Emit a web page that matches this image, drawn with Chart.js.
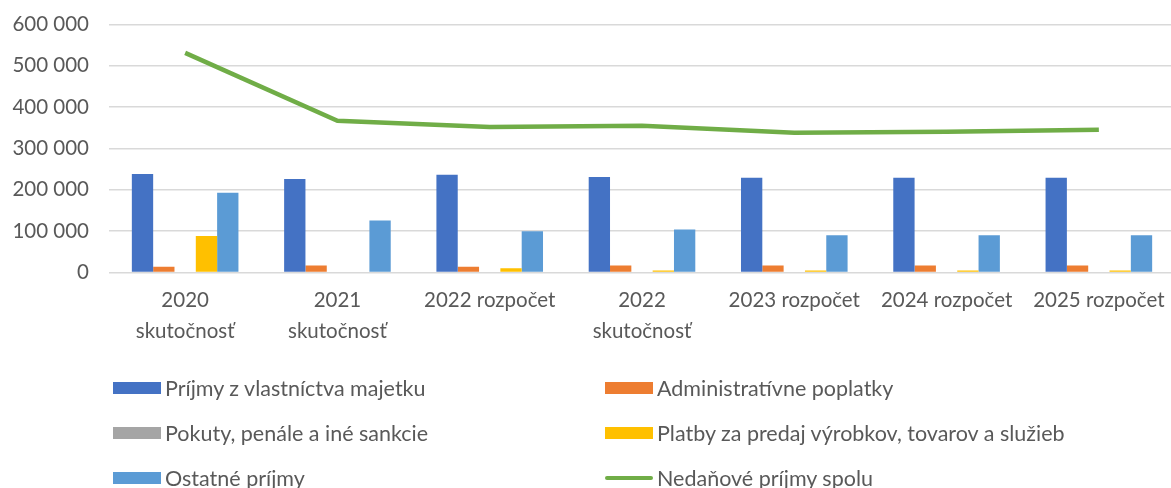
<!DOCTYPE html>
<html>
<head>
<meta charset="utf-8">
<script src="https://cdn.jsdelivr.net/npm/chart.js@4.4.1/dist/chart.umd.min.js"></script>
<style>
  html, body { margin: 0; padding: 0; background: #fff; overflow: hidden; }
  #wrap { position: relative; width: 1171px; height: 488px; overflow: hidden; }
  #chart { position: absolute; left: 0; top: -8px; }
  #legend { position: absolute; left: 113px; top: 375px; width: 1050px; font-family: Lato, sans-serif; font-size: 21.5px; color: #595959; }
  .item { position: absolute; display: flex; align-items: center; white-space: nowrap; }
  .box { width: 48px; height: 12px; margin-right: 4px; }
  .ln { width: 48px; height: 4px; margin-right: 4px; border-radius: 2px; }
</style>
</head>
<body>
<div id="wrap">
  <canvas id="chart" width="1175" height="496"></canvas>
  <div id="legend"></div>
</div>
<script>
// Categories (x axis), multi-line where the original wraps
const categories = [
  ['2020', 'skutočnosť'],
  ['2021', 'skutočnosť'],
  '2022 rozpočet',
  ['2022', 'skutočnosť'],
  '2023 rozpočet',
  '2024 rozpočet',
  '2025 rozpočet'
];

// Series values
const majetok   = [238000, 226000, 236000, 231000, 229000, 229000, 229000];
const poplatky  = [14000, 17000, 14000, 17000, 17000, 17000, 17000];
const sankcie   = [0, 0, 0, 0, 0, 0, 0];
const platby    = [88000, 0, 10000, 5000, 5000, 5000, 5000];
const ostatne   = [193000, 126000, 100000, 104000, 90000, 90000, 90000];
const spolu     = [531000, 367000, 352000, 355000, 338000, 340000, 345000];

const yTicks = [0, 100000, 200000, 300000, 400000, 500000, 600000];

const grey = '#595959';
const font = { family: 'Lato, sans-serif', size: 20.5 };

const datasets = [
  { type: 'line', label: 'Nedaňové príjmy spolu', data: spolu, borderColor: '#70ad47', backgroundColor: '#70ad47',
    borderWidth: 4.5, pointRadius: 0, tension: 0, order: 0 },
  { label: 'Príjmy z vlastníctva majetku', data: majetok, backgroundColor: '#4472c4', order: 1 },
  { label: 'Administratívne poplatky', data: poplatky, backgroundColor: '#ed7d31', order: 1 },
  { label: 'Pokuty, penále a iné sankcie', data: sankcie, backgroundColor: '#a5a5a5', order: 1 },
  { label: 'Platby za predaj výrobkov, tovarov a služieb', data: platby, backgroundColor: '#ffc000', order: 1 },
  { label: 'Ostatné príjmy', data: ostatne, backgroundColor: '#5b9bd5', order: 1 }
];

const chart = new Chart(document.getElementById('chart'), {
  type: 'bar',
  data: { labels: categories, datasets: datasets },
  options: {
    responsive: false,
    animation: false,
    layout: { padding: { top: 4, right: 0, bottom: 136, left: 0 } },
    datasets: { bar: { categoryPercentage: 0.7, barPercentage: 1.0 } },
    plugins: { legend: { display: false }, tooltip: { enabled: false } },
    scales: {
      x: {
        grid: { display: false },
        border: { display: false },
        ticks: { color: grey, font: { ...font, lineHeight: 1.5 }, maxRotation: 0, autoSkip: false, padding: 5 }
      },
      y: {
        min: 0, max: 600000,
        afterBuildTicks: (axis) => { axis.ticks = yTicks.map(v => ({ value: v })); },
        afterFit: (axis) => { axis.width = 109; },
        grid: { color: '#d9d9d9', lineWidth: 1.5, drawTicks: false },
        border: { display: false },
        ticks: {
          color: grey, font: font, padding: 20,
          callback: (v) => String(v).replace(/\B(?=(\d{3})+(?!\d))/g, ' ')
        }
      }
    }
  }
});

// Two-column legend below the plot, in the original order
const legendOrder = [1, 2, 3, 4, 5, 0];
const legend = document.getElementById('legend');
legendOrder.forEach((idx, i) => {
  const ds = datasets[idx];
  const el = document.createElement('div');
  el.className = 'item';
  el.style.left = (i % 2 === 0 ? 0 : 492) + 'px';
  el.style.top = (Math.floor(i / 2) * 45) + 'px';
  const mark = document.createElement('span');
  mark.className = ds.type === 'line' ? 'ln' : 'box';
  mark.style.background = ds.backgroundColor;
  el.appendChild(mark);
  el.appendChild(document.createTextNode(ds.label));
  legend.appendChild(el);
});
</script>
</body>
</html>
